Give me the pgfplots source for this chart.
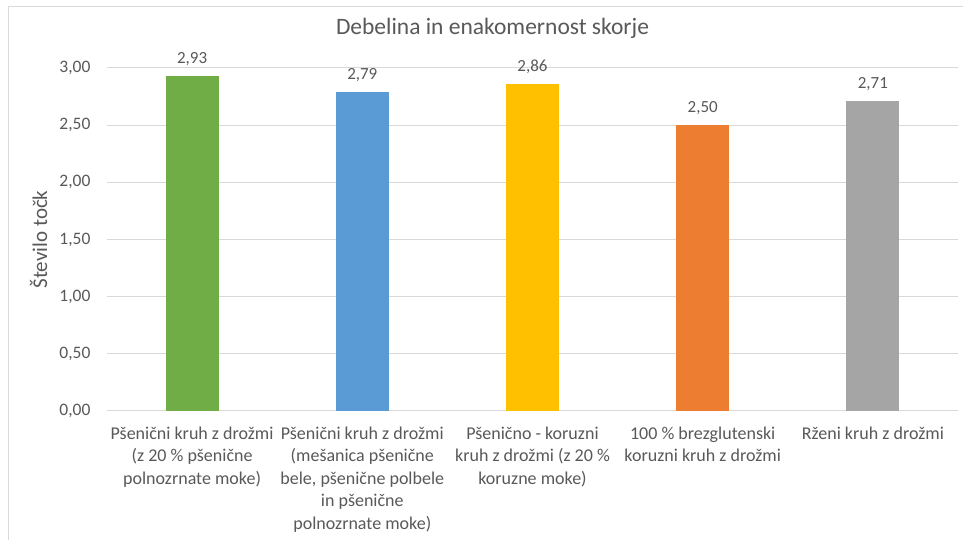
\documentclass[border=0pt]{standalone}
\usepackage{fontspec}
\setmainfont{Carlito}
\usepackage{pgfplots}
\pgfplotsset{compat=1.18}
\definecolor{txt}{HTML}{595959}
\definecolor{grid}{HTML}{D9D9D9}
\definecolor{cgreen}{HTML}{70AD47}
\definecolor{cblue}{HTML}{5B9BD5}
\definecolor{cyellow}{HTML}{FFC000}
\definecolor{corange}{HTML}{ED7D31}
\definecolor{cgrey}{HTML}{A5A5A5}
\begin{document}
\begin{tikzpicture}
\useasboundingbox (0,0) rectangle (963pt,540pt);
\fill[white] (0,0) rectangle (963pt,540pt);
\draw[color=grid, line width=1pt] (8pt,0) -- (8pt,533pt) -- (963pt,533pt);
\begin{axis}[
  at={(107pt,129pt)}, anchor=south west,
  scale only axis, width=851pt, height=343pt,
  ymin=0, ymax=3, ytick={0,0.5,...,3},
  xmin=-0.5, xmax=4.5,
  xtick={0,1,2,3,4},
  xticklabels={
    {Pšenični kruh z drožmi\\(z 20 \% pšenične\\polnozrnate moke)},
    {Pšenični kruh z drožmi\\(mešanica pšenične\\bele, pšenične polbele\\in pšenične\\polnozrnate moke)},
    {Pšenično - koruzni\\kruh z drožmi (z 20 \%\\koruzne moke)},
    {100 \% brezglutenski\\koruzni kruh z drožmi},
    {Rženi kruh z drožmi}},
  xticklabel style={align=center, font=\fontsize{18}{22.5}\selectfont, text=txt, anchor=north, yshift=-12pt},
  yticklabel style={font=\fontsize{17.5}{21}\selectfont, text=txt, xshift=-13pt},
  /pgf/number format/.cd, use comma, fixed, fixed zerofill, precision=2, assume math mode=true,
  /pgfplots/.cd,
  ymajorgrids, grid style={color=grid, line width=1pt},
  axis x line*=bottom,
  axis y line*=left,
  x axis line style={draw=grid, line width=1pt, -},
  y axis line style={draw=none},
  major tick length=0pt,
  tick style={draw=none},
  ylabel={Število točk},
  ylabel style={font=\fontsize{21}{24}\selectfont, text=txt, at={(axis description cs:-0.0805,0.5)}, anchor=center},
  title={Debelina in enakomernost skorje},
  title style={font=\fontsize{23.5}{27}\selectfont, text=txt, at={(axis description cs:0.453,1)}, anchor=base, yshift=27pt},
  ybar, bar width=53pt,
  nodes near coords,
  nodes near coords style={font=\fontsize{17}{20}\selectfont, text=txt, yshift=7pt, /pgf/number format/.cd, use comma, fixed, fixed zerofill, precision=2, assume math mode=true},
  clip=false,
]
\addplot[fill=cgreen, draw=none, bar shift=0pt] coordinates {(0,2.93)};
\addplot[fill=cblue, draw=none, bar shift=0pt] coordinates {(1,2.79)};
\addplot[fill=cyellow, draw=none, bar shift=0pt] coordinates {(2,2.86)};
\addplot[fill=corange, draw=none, bar shift=0pt] coordinates {(3,2.50)};
\addplot[fill=cgrey, draw=none, bar shift=0pt] coordinates {(4,2.71)};
\end{axis}
\end{tikzpicture}
\end{document}
